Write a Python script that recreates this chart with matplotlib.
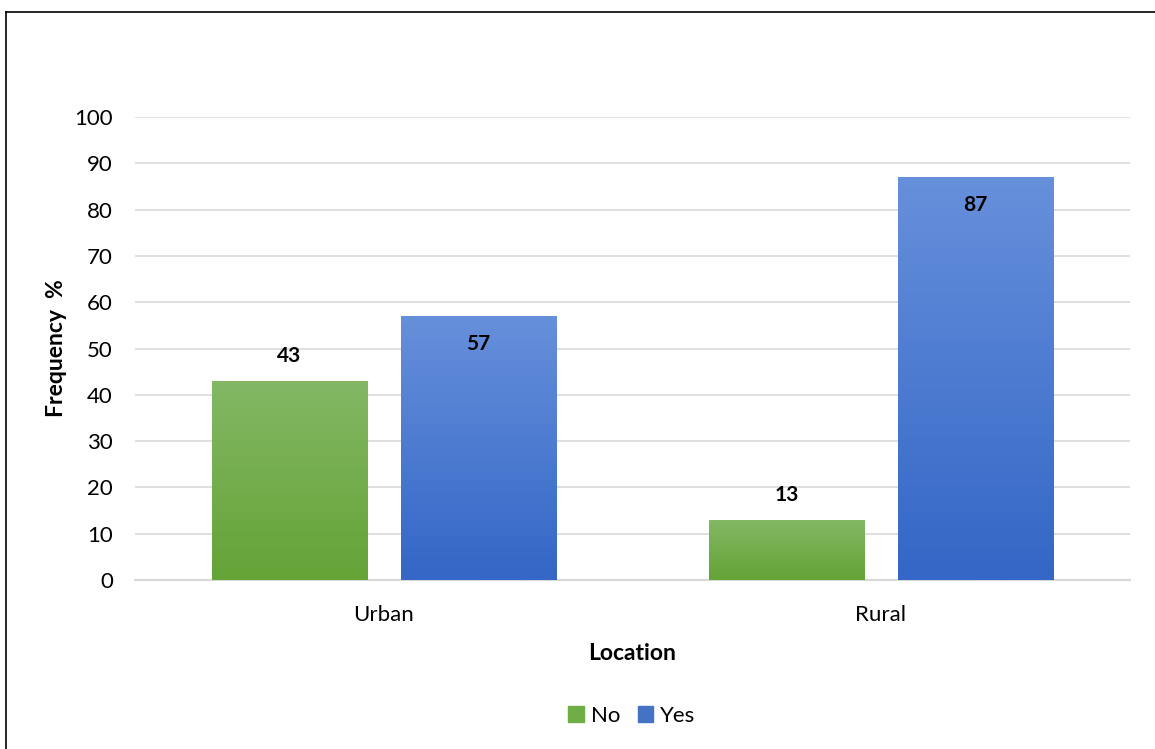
import numpy as np
import matplotlib
matplotlib.use('Agg')
from matplotlib import pyplot as plt
from matplotlib.colors import LinearSegmentedColormap
from matplotlib.lines import Line2D

# data
locations = ['Urban', 'Rural']
no_vals = [43, 13]
yes_vals = [57, 87]

plt.rcParams['font.family'] = ['Lato', 'DejaVu Sans']

fig = plt.figure(figsize=(11.55, 7.49), dpi=100)
ax = fig.add_axes([0.117, 0.2256, 0.861, 0.6182])

x = np.arange(len(locations))
w = 0.3125
off = 0.19

green = LinearSegmentedColormap.from_list('g', ['#64a336', '#84b865'])
blue = LinearSegmentedColormap.from_list('b', ['#3366c6', '#6790db'])
grad = np.linspace(0, 1, 256).reshape(-1, 1)

def gradient_bars(xpos, vals, cmap, color):
    bars = ax.bar(xpos, vals, width=w, color=color, zorder=2)
    for b in bars:
        bx, by = b.get_x(), b.get_y()
        bw, bh = b.get_width(), b.get_height()
        im = ax.imshow(grad, cmap=cmap, origin='lower', aspect='auto',
                       extent=[bx, bx + bw, by, by + bh], zorder=3)
        im.set_clip_path(b)
    return bars

gradient_bars(x - off, no_vals, green, '#70ad47')
gradient_bars(x + off, yes_vals, blue, '#4472c4')

# labels: No outside end, Yes inside end
for xi, v in zip(x - off, no_vals):
    ax.text(xi, v + 3.2, str(v), ha='center', va='bottom', fontsize=15,
            fontweight='bold', color='#000000', zorder=4)
for xi, v in zip(x + off, yes_vals):
    ax.text(xi, v - 3.8, str(v), ha='center', va='top', fontsize=15,
            fontweight='bold', color='#000000', zorder=4)

ax.set_xlim(-0.5, 1.5)
ax.set_ylim(0, 100)
ax.set_yticks(np.arange(0, 101, 10))
ax.set_xticks(x)
ax.set_xticklabels(locations)
ax.tick_params(axis='both', length=0, labelsize=16, colors='#000000')
ax.tick_params(axis='x', pad=18)
ax.tick_params(axis='y', pad=16)
ax.yaxis.grid(True, color='#d9d9d9', linewidth=1.2, zorder=0)
ax.set_axisbelow(True)
for s in ['top', 'right', 'left']:
    ax.spines[s].set_visible(False)
ax.spines['bottom'].set_color('#d9d9d9')
ax.spines['bottom'].set_linewidth(1.5)

ax.set_xlabel('Location', fontsize=16.5, fontweight='bold', labelpad=13)
ax.set_ylabel('Frequency  %', fontsize=16.5, fontweight='bold', labelpad=5)

handles = [plt.Rectangle((0, 0), 1, 1, color='#70ad47'),
           plt.Rectangle((0, 0), 1, 1, color='#4472c4')]
fig.legend(handles, ['No', 'Yes'], loc='center', bbox_to_anchor=(0.547, 0.044),
           ncol=2, frameon=False, fontsize=16, handlelength=0.7, handleheight=0.7,
           handletextpad=0.3, columnspacing=0.8)

# outer border
fig.add_artist(Line2D([5.5 / 1155, 5.5 / 1155], [0, 1 - 11.5 / 749], color='black', lw=1.2))
fig.add_artist(Line2D([5.5 / 1155, 1], [1 - 11.5 / 749, 1 - 11.5 / 749], color='black', lw=1.2))

fig.savefig('out.png', dpi=100)
